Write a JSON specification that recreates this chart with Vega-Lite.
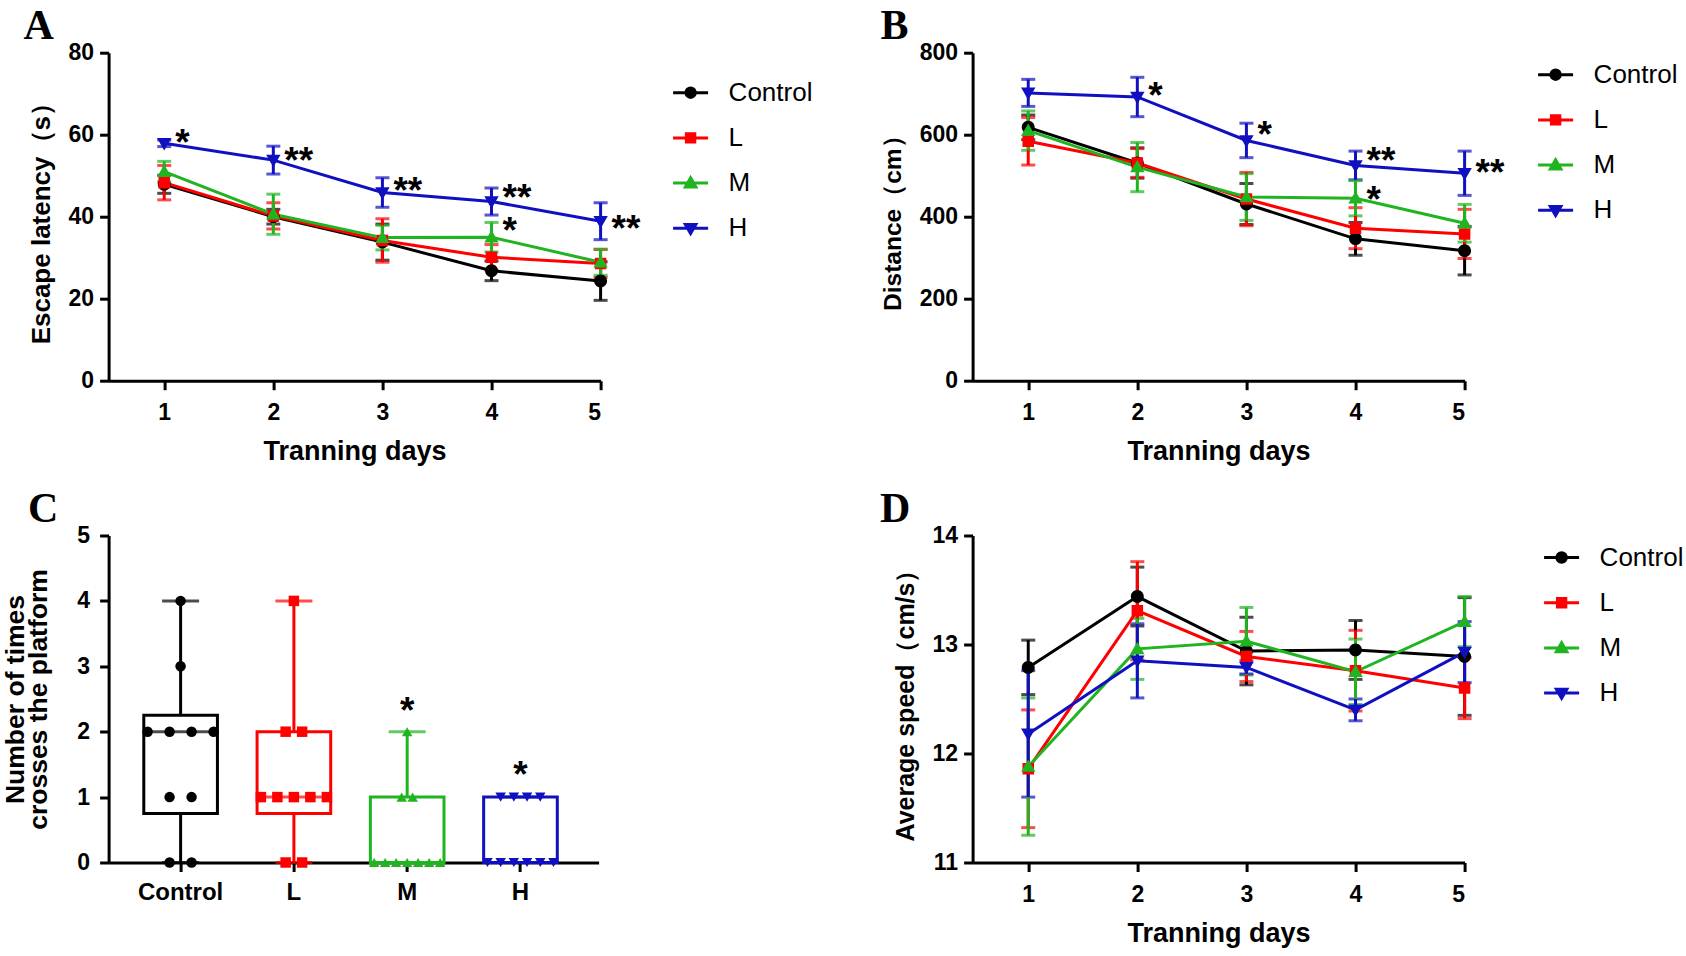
{
  "$schema": "https://vega.github.io/schema/vega-lite/v6.json",
  "autosize": {"type": "none"},
  "padding": {"left": 108.6, "top": 52.7, "right": 1577.4, "bottom": 903.3},
  "background": "white",
  "config": {
    "view": {"stroke": null},
    "font": "Liberation Sans",
    "axis": {
      "domainColor": "#000000", "domainWidth": 3, "tickColor": "#000000", "tickWidth": 3, "tickSize": 9,
      "labelFont": "Liberation Sans", "labelFontSize": 23, "labelFontWeight": "bold", "labelColor": "#000000", "labelPadding": 6,
      "titleFont": "Liberation Sans", "titleFontSize": 25, "titleFontWeight": "bold", "titleColor": "#000000", "grid": false
    },
    "axisX": {"titleFontSize": 27, "labelPadding": 12, "titlePadding": 14},
    "axisY": {"titlePadding": 14},
    "title": {"font": "Liberation Serif", "fontSize": 42, "fontWeight": "bold", "anchor": "start", "frame": "group", "color": "#000000", "offset": 0, "dy": 10},
    "legend": {
      "orient": "none", "title": null, "padding": 0, "labelFont": "Liberation Sans", "labelFontSize": 26, "labelColor": "#000000",
      "labelOffset": 19, "rowPadding": 13.2, "symbolSize": 1225, "symbolStrokeWidth": 3, "symbolOpacity": 1
    }
  },
  "datasets": {
    "escape": [
      {"day": 1, "group": "Control", "mean": 47.9, "sem": 2.2}, {"day": 2, "group": "Control", "mean": 40.0, "sem": 1.8}, {"day": 3, "group": "Control", "mean": 33.8, "sem": 4.4}, {"day": 4, "group": "Control", "mean": 26.8, "sem": 2.4}, {"day": 5, "group": "Control", "mean": 24.3, "sem": 4.7},
      {"day": 1, "group": "L", "mean": 48.3, "sem": 4.2}, {"day": 2, "group": "L", "mean": 40.2, "sem": 3.2}, {"day": 3, "group": "L", "mean": 34.2, "sem": 5.3}, {"day": 4, "group": "L", "mean": 30.1, "sem": 3.1}, {"day": 5, "group": "L", "mean": 28.6, "sem": 3.4},
      {"day": 1, "group": "M", "mean": 51.0, "sem": 2.5}, {"day": 2, "group": "M", "mean": 40.6, "sem": 4.9}, {"day": 3, "group": "M", "mean": 34.9, "sem": 3.0}, {"day": 4, "group": "M", "mean": 35.0, "sem": 3.6}, {"day": 5, "group": "M", "mean": 28.9, "sem": 3.2},
      {"day": 1, "group": "H", "mean": 57.9, "sem": 0.8}, {"day": 2, "group": "H", "mean": 53.8, "sem": 3.4}, {"day": 3, "group": "H", "mean": 45.9, "sem": 3.6}, {"day": 4, "group": "H", "mean": 43.7, "sem": 3.3}, {"day": 5, "group": "H", "mean": 38.9, "sem": 4.5}
    ],
    "distance": [
      {"day": 1, "group": "Control", "mean": 618, "sem": 30}, {"day": 2, "group": "Control", "mean": 531, "sem": 37}, {"day": 3, "group": "Control", "mean": 431, "sem": 50}, {"day": 4, "group": "Control", "mean": 346, "sem": 40}, {"day": 5, "group": "Control", "mean": 317, "sem": 59},
      {"day": 1, "group": "L", "mean": 584, "sem": 58}, {"day": 2, "group": "L", "mean": 531, "sem": 35}, {"day": 3, "group": "L", "mean": 443, "sem": 65}, {"day": 4, "group": "L", "mean": 372, "sem": 50}, {"day": 5, "group": "L", "mean": 358, "sem": 60},
      {"day": 1, "group": "M", "mean": 610, "sem": 48}, {"day": 2, "group": "M", "mean": 521, "sem": 60}, {"day": 3, "group": "M", "mean": 448, "sem": 57}, {"day": 4, "group": "M", "mean": 445, "sem": 43}, {"day": 5, "group": "M", "mean": 384, "sem": 46},
      {"day": 1, "group": "H", "mean": 702, "sem": 33}, {"day": 2, "group": "H", "mean": 692, "sem": 48}, {"day": 3, "group": "H", "mean": 586, "sem": 42}, {"day": 4, "group": "H", "mean": 525, "sem": 35}, {"day": 5, "group": "H", "mean": 506, "sem": 54}
    ],
    "speed": [
      {"day": 1, "group": "Control", "mean": 12.79, "sem": 0.25}, {"day": 2, "group": "Control", "mean": 13.44, "sem": 0.27}, {"day": 3, "group": "Control", "mean": 12.94, "sem": 0.31}, {"day": 4, "group": "Control", "mean": 12.95, "sem": 0.27}, {"day": 5, "group": "Control", "mean": 12.89, "sem": 0.54},
      {"day": 1, "group": "L", "mean": 11.86, "sem": 0.54}, {"day": 2, "group": "L", "mean": 13.31, "sem": 0.45}, {"day": 3, "group": "L", "mean": 12.89, "sem": 0.23}, {"day": 4, "group": "L", "mean": 12.76, "sem": 0.37}, {"day": 5, "group": "L", "mean": 12.60, "sem": 0.28},
      {"day": 1, "group": "M", "mean": 11.88, "sem": 0.63}, {"day": 2, "group": "M", "mean": 12.96, "sem": 0.28}, {"day": 3, "group": "M", "mean": 13.03, "sem": 0.31}, {"day": 4, "group": "M", "mean": 12.75, "sem": 0.30}, {"day": 5, "group": "M", "mean": 13.21, "sem": 0.23},
      {"day": 1, "group": "H", "mean": 12.18, "sem": 0.58}, {"day": 2, "group": "H", "mean": 12.85, "sem": 0.34}, {"day": 3, "group": "H", "mean": 12.79, "sem": 0.06}, {"day": 4, "group": "H", "mean": 12.40, "sem": 0.10}, {"day": 5, "group": "H", "mean": 12.93, "sem": 0.28}
    ],
    "crossBox": [
      {"group": "Control", "min": 0, "q1": 0.75, "median": 2, "q3": 2.25, "max": 4},
      {"group": "L", "min": 0, "q1": 0.75, "median": 1, "q3": 2, "max": 4},
      {"group": "M", "min": 0, "q1": 0, "median": 0, "q3": 1, "max": 2},
      {"group": "H", "min": 0, "q1": 0, "median": 0, "q3": 1, "max": 1}
    ],
    "crossPoints": [
      {"group": "Control", "value": 4, "slot": 0}, {"group": "Control", "value": 3, "slot": 0},
      {"group": "Control", "value": 2, "slot": -3}, {"group": "Control", "value": 2, "slot": -1}, {"group": "Control", "value": 2, "slot": 1}, {"group": "Control", "value": 2, "slot": 3},
      {"group": "Control", "value": 1, "slot": -1}, {"group": "Control", "value": 1, "slot": 1},
      {"group": "Control", "value": 0, "slot": -1}, {"group": "Control", "value": 0, "slot": 1},
      {"group": "L", "value": 4, "slot": 0},
      {"group": "L", "value": 2, "slot": -0.75}, {"group": "L", "value": 2, "slot": 0.75},
      {"group": "L", "value": 1, "slot": -3}, {"group": "L", "value": 1, "slot": -1.5}, {"group": "L", "value": 1, "slot": 0}, {"group": "L", "value": 1, "slot": 1.5}, {"group": "L", "value": 1, "slot": 3},
      {"group": "L", "value": 0, "slot": -0.75}, {"group": "L", "value": 0, "slot": 0.75},
      {"group": "M", "value": 2, "slot": 0},
      {"group": "M", "value": 1, "slot": -0.5}, {"group": "M", "value": 1, "slot": 0.5},
      {"group": "M", "value": 0, "slot": -3}, {"group": "M", "value": 0, "slot": -2}, {"group": "M", "value": 0, "slot": -1}, {"group": "M", "value": 0, "slot": 0}, {"group": "M", "value": 0, "slot": 1}, {"group": "M", "value": 0, "slot": 2}, {"group": "M", "value": 0, "slot": 3},
      {"group": "H", "value": 1, "slot": -1.8}, {"group": "H", "value": 1, "slot": -0.6}, {"group": "H", "value": 1, "slot": 0.6}, {"group": "H", "value": 1, "slot": 1.8},
      {"group": "H", "value": 0, "slot": -3}, {"group": "H", "value": 0, "slot": -1.8}, {"group": "H", "value": 0, "slot": -0.6}, {"group": "H", "value": 0, "slot": 0.6}, {"group": "H", "value": 0, "slot": 1.8}, {"group": "H", "value": 0, "slot": 3}
    ],
    "starsA": [
      {"day": 1, "y": 59.6, "label": "*"}, {"day": 2, "y": 55.2, "label": "**"}, {"day": 3, "y": 48.0, "label": "**"},
      {"day": 4, "y": 46.3, "label": "**"}, {"day": 4, "y": 38.2, "label": "*"}, {"day": 5, "y": 38.7, "label": "**"}
    ],
    "starsB": [
      {"day": 2, "y": 711, "label": "*"}, {"day": 3, "y": 617, "label": "*"}, {"day": 4, "y": 553, "label": "**"},
      {"day": 4, "y": 459, "label": "*"}, {"day": 5, "y": 523, "label": "**"}
    ],
    "starsC": [
      {"group": "M", "y": 2.42, "label": "*"}, {"group": "H", "y": 1.45, "label": "*"}
    ]
  },
  "bounds": "flush",
  "columns": 2,
  "spacing": {"row": 154.8, "column": 372},
  "resolve": {"scale": {"color": "independent", "shape": "independent", "stroke": "independent"}, "legend": {"color": "independent", "shape": "independent"}},
  "concat": [
    {
      "width": 492, "height": 328,
      "title": {"text": "A", "dx": -85},
      "data": {"name": "escape"},
      "encoding": {
        "x": {"field": "day", "type": "quantitative", "scale": {"domain": [0.49, 5], "nice": false, "zero": false}, "axis": {"values": [1, 2, 3, 4, 5], "format": "d", "title": "Tranning days"}},
        "y": {"field": "mean", "type": "quantitative", "scale": {"domain": [0, 80], "nice": false}, "axis": {"values": [0, 20, 40, 60, 80], "format": "d", "title": "Escape latency（s）", "titleFontSize": 26}},
        "color": {"field": "group", "type": "nominal", "scale": {"domain": ["Control", "L", "M", "H"], "range": ["#000000", "#ff0000", "#21b421", "#1010c0"]},
          "legend": {"legendX": 563, "legendY": 21}}
      },
      "layer": [
        {"mark": {"type": "errorbar", "ticks": {"size": 14, "thickness": 3}, "rule": {"strokeWidth": 3}}, "encoding": {"yError": {"field": "sem"}}},
        {"mark": {"type": "line", "strokeWidth": 3}},
        {"mark": {"type": "point", "filled": true, "size": 2304, "opacity": 1},
          "encoding": {"shape": {"field": "group", "type": "nominal", "scale": {"domain": ["Control", "L", "M", "H"], "range": ["M-1,0L1,0M-0.27,0A0.27,0.27,0,1,0,0.27,0A0.27,0.27,0,1,0,-0.27,0Z", "M-1,0L1,0M-0.24,-0.24L0.24,-0.24L0.24,0.24L-0.24,0.24Z", "M-1,0L1,0M0,-0.3L0.3,0.22L-0.3,0.22Z", "M-1,0L1,0M0,0.3L0.3,-0.22L-0.3,-0.22Z"]}}}},
        {"data": {"name": "starsA"}, "mark": {"type": "text", "align": "left", "baseline": "middle", "dx": 11, "dy": 8, "fontSize": 37, "fontWeight": "bold", "font": "Liberation Sans"},
          "encoding": {"y": {"field": "y", "type": "quantitative"}, "text": {"field": "label"}, "color": {"value": "#000000"}}}
      ]
    },
    {
      "width": 492, "height": 328,
      "title": {"text": "B", "dx": -92},
      "data": {"name": "distance"},
      "encoding": {
        "x": {"field": "day", "type": "quantitative", "scale": {"domain": [0.49, 5], "nice": false, "zero": false}, "axis": {"values": [1, 2, 3, 4, 5], "format": "d", "title": "Tranning days"}},
        "y": {"field": "mean", "type": "quantitative", "scale": {"domain": [0, 800], "nice": false}, "axis": {"values": [0, 200, 400, 600, 800], "format": "d", "title": "Distance（cm）", "titleFontSize": 24.5}},
        "color": {"field": "group", "type": "nominal", "scale": {"domain": ["Control", "L", "M", "H"], "range": ["#000000", "#ff0000", "#21b421", "#1010c0"]},
          "legend": {"legendX": 564, "legendY": 3}}
      },
      "layer": [
        {"mark": {"type": "errorbar", "ticks": {"size": 14, "thickness": 3}, "rule": {"strokeWidth": 3}}, "encoding": {"yError": {"field": "sem"}}},
        {"mark": {"type": "line", "strokeWidth": 3}},
        {"mark": {"type": "point", "filled": true, "size": 2304, "opacity": 1},
          "encoding": {"shape": {"field": "group", "type": "nominal", "scale": {"domain": ["Control", "L", "M", "H"], "range": ["M-1,0L1,0M-0.27,0A0.27,0.27,0,1,0,0.27,0A0.27,0.27,0,1,0,-0.27,0Z", "M-1,0L1,0M-0.24,-0.24L0.24,-0.24L0.24,0.24L-0.24,0.24Z", "M-1,0L1,0M0,-0.3L0.3,0.22L-0.3,0.22Z", "M-1,0L1,0M0,0.3L0.3,-0.22L-0.3,-0.22Z"]}}}},
        {"data": {"name": "starsB"}, "mark": {"type": "text", "align": "left", "baseline": "middle", "dx": 11, "dy": 8, "fontSize": 37, "fontWeight": "bold", "font": "Liberation Sans"},
          "encoding": {"y": {"field": "y", "type": "quantitative"}, "text": {"field": "label"}, "color": {"value": "#000000"}}}
      ]
    },
    {
      "width": 490, "height": 327,
      "title": {"text": "C", "dx": -80.6},
      "resolve": {"scale": {"xOffset": "independent"}},
      "encoding": {
        "x": {"field": "group", "type": "nominal", "sort": null, "scale": {"domain": ["Control", "L", "M", "H"], "paddingInner": 0.35, "paddingOuter": 0.3376, "align": 0.46},
          "axis": {"title": null, "labelAngle": 0, "labelFontSize": 24, "labelPadding": 9}}
      },
      "layer": [
        {"data": {"name": "crossBox"}, "mark": {"type": "rule", "strokeWidth": 3},
          "encoding": {
            "y": {"field": "min", "type": "quantitative", "scale": {"domain": [0, 5], "nice": false}, "axis": {"values": [0, 1, 2, 3, 4, 5], "format": "d", "title": ["Number of times", "crosses the platform"], "titleFontSize": 26.5, "titleLineHeight": 23, "labelPadding": 10, "titlePadding": 24}},
            "y2": {"field": "max"},
            "color": {"field": "group", "type": "nominal", "scale": {"domain": ["Control", "L", "M", "H"], "range": ["#000000", "#ff0000", "#21b421", "#1010c0"]}, "legend": null}
          }},
        {"data": {"name": "crossBox"}, "mark": {"type": "bar", "fill": "#ffffff", "strokeWidth": 3},
          "encoding": {
            "y": {"field": "q1", "type": "quantitative"}, "y2": {"field": "q3"},
            "stroke": {"field": "group", "type": "nominal", "scale": {"domain": ["Control", "L", "M", "H"], "range": ["#000000", "#ff0000", "#21b421", "#1010c0"]}, "legend": null}
          }},
        {"data": {"name": "crossBox"}, "mark": {"type": "tick", "thickness": 3, "size": 73.6},
          "encoding": {"y": {"field": "median", "type": "quantitative"}, "color": {"field": "group", "type": "nominal", "legend": null}}},
        {"data": {"name": "crossBox"}, "mark": {"type": "tick", "thickness": 3, "size": 37},
          "encoding": {"y": {"field": "max", "type": "quantitative"}, "color": {"field": "group", "type": "nominal", "legend": null}}},
        {"data": {"name": "crossBox"}, "mark": {"type": "tick", "thickness": 3, "size": 37},
          "encoding": {"y": {"field": "min", "type": "quantitative"}, "color": {"field": "group", "type": "nominal", "legend": null}}},
        {"data": {"name": "crossPoints"}, "mark": {"type": "point", "filled": true, "size": 110, "opacity": 1},
          "encoding": {
            "y": {"field": "value", "type": "quantitative"},
            "xOffset": {"field": "slot", "type": "quantitative", "scale": {"domain": [-3, 3], "range": [3.8, 69.8]}},
            "color": {"field": "group", "type": "nominal", "legend": null},
            "shape": {"field": "group", "type": "nominal", "scale": {"domain": ["Control", "L", "M", "H"], "range": ["circle", "square", "triangle-up", "triangle-down"]}, "legend": null}
          }},
        {"data": {"name": "starsC"}, "mark": {"type": "text", "align": "center", "baseline": "middle", "dy": 8, "fontSize": 37, "fontWeight": "bold", "font": "Liberation Sans", "color": "#000000"},
          "encoding": {"y": {"field": "y", "type": "quantitative"}, "text": {"field": "label"}}}
      ]
    },
    {
      "width": 492, "height": 327,
      "title": {"text": "D", "dx": -92.6},
      "data": {"name": "speed"},
      "encoding": {
        "x": {"field": "day", "type": "quantitative", "scale": {"domain": [0.49, 5], "nice": false, "zero": false}, "axis": {"values": [1, 2, 3, 4, 5], "format": "d", "title": "Tranning days"}},
        "y": {"field": "mean", "type": "quantitative", "scale": {"domain": [11, 14], "nice": false, "zero": false}, "axis": {"values": [11, 12, 13, 14], "format": "d", "title": "Average speed（cm/s）", "titleFontSize": 25}},
        "color": {"field": "group", "type": "nominal", "scale": {"domain": ["Control", "L", "M", "H"], "range": ["#000000", "#ff0000", "#21b421", "#1010c0"]},
          "legend": {"legendX": 570, "legendY": 3}}
      },
      "layer": [
        {"mark": {"type": "errorbar", "ticks": {"size": 14, "thickness": 3}, "rule": {"strokeWidth": 3}}, "encoding": {"yError": {"field": "sem"}}},
        {"mark": {"type": "line", "strokeWidth": 3}},
        {"mark": {"type": "point", "filled": true, "size": 2304, "opacity": 1},
          "encoding": {"shape": {"field": "group", "type": "nominal", "scale": {"domain": ["Control", "L", "M", "H"], "range": ["M-1,0L1,0M-0.27,0A0.27,0.27,0,1,0,0.27,0A0.27,0.27,0,1,0,-0.27,0Z", "M-1,0L1,0M-0.24,-0.24L0.24,-0.24L0.24,0.24L-0.24,0.24Z", "M-1,0L1,0M0,-0.3L0.3,0.22L-0.3,0.22Z", "M-1,0L1,0M0,0.3L0.3,-0.22L-0.3,-0.22Z"]}}}}
      ]
    }
  ]
}
